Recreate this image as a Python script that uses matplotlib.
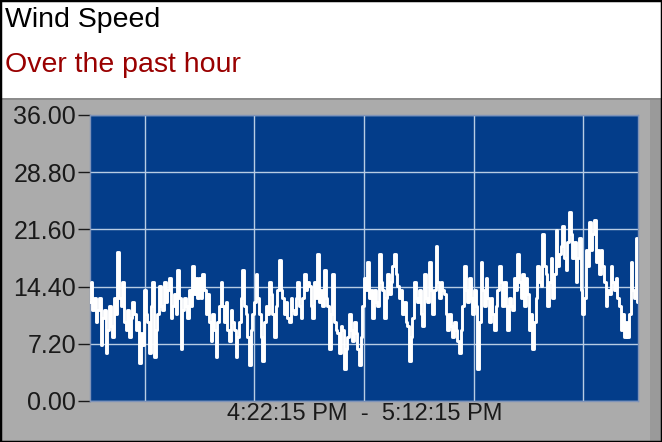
import numpy as np
import matplotlib.pyplot as plt
from matplotlib.patches import Rectangle

TITLE = "Wind Speed"
SUBTITLE = "Over the past hour"
TIME_RANGE = "4:22:15 PM  -  5:12:15 PM"
DURATION_MIN = 50

# wind speed samples, left to right
speed_a = [12.5, 15.0, 11.5, 13.0, 10.0, 11.5, 13.0, 7.0, 10.5, 11.5, 6.0,
           9.0, 12.0, 9.5, 8.0, 13.0, 11.0, 18.7, 13.0, 12.0, 15.0, 10.0,
           9.0, 11.5, 8.0, 10.5, 12.5, 11.0, 9.0, 10.0, 4.8, 8.5, 7.0,
           14.0, 11.0, 10.0, 6.0, 12.0, 15.0, 5.5, 9.0, 11.0, 14.5, 12.0,
           11.5, 15.0, 12.5, 14.0, 15.5, 10.5, 12.0, 13.5, 11.0, 16.5, 13.0,
           6.5, 11.5, 13.0, 12.0, 10.5, 14.0, 12.0, 17.0, 13.5, 15.5, 13.0]
speed_b = [15.5, 13.0, 16.0, 14.0, 11.0, 13.5, 10.0, 7.5, 11.0, 9.0, 5.5,
           10.0, 12.0, 15.0, 12.0, 10.0, 12.5, 9.0, 7.5, 11.5, 10.0, 9.0,
           5.5, 8.0, 10.0, 13.0, 16.5, 12.0, 11.0, 8.0, 4.5, 9.0, 11.0,
           12.5, 16.0, 13.0, 11.0, 8.0, 5.0, 10.0, 12.0, 11.0, 15.0, 13.5,
           11.0, 8.0, 12.0, 14.0, 17.8, 14.0, 13.0, 11.0, 12.5, 10.5, 10.0,
           13.0, 11.5, 11.0, 13.0, 15.0, 12.0, 10.5, 13.0, 16.0, 14.0, 15.0]
speed_c = [14.5, 12.0, 10.5, 15.0, 13.0, 18.5, 12.5, 14.0, 12.0, 16.5, 13.0,
           12.0, 6.5, 11.0, 16.0, 10.0, 9.0, 8.5, 6.0, 9.5, 9.0, 4.0,
           6.5, 8.0, 11.0, 9.0, 7.5, 10.0, 8.5, 6.5, 4.5, 8.0, 12.0,
           15.5, 14.0, 17.5, 13.0, 14.0, 10.5, 14.0, 12.5, 12.0, 18.5, 15.0,
           14.0, 10.5, 13.0, 16.0, 13.5, 15.0, 17.0, 18.5, 16.0, 14.5, 13.0,
           14.0, 11.0, 12.5, 10.0, 9.5, 5.0, 8.0, 10.5, 15.0, 13.0, 12.5]
speed_d = [14.0, 11.0, 9.5, 16.0, 13.0, 12.5, 17.5, 14.0, 11.0, 14.0, 19.5,
           15.0, 13.0, 15.0, 14.0, 13.5, 11.0, 9.0, 11.0, 9.5, 8.0, 10.0,
           9.0, 7.5, 6.0, 9.0, 12.0, 17.0, 14.0, 12.5, 15.5, 13.0, 11.0,
           14.0, 12.0, 4.0, 10.0, 17.5, 14.0, 12.0, 15.5, 13.0, 10.0, 13.0,
           11.0, 9.0, 12.0, 14.0, 17.0, 15.0, 12.0, 15.0, 12.0, 9.0, 13.0,
           12.0, 11.5, 15.5, 14.0, 18.5, 15.0, 13.0, 16.0, 12.0, 15.5, 13.5]
speed_e = [9.0, 11.0, 6.5, 10.0, 13.0, 17.0, 15.0, 14.5, 21.0, 17.0, 16.0,
           12.0, 15.0, 18.0, 13.0, 16.0, 21.5, 17.0, 18.5, 19.5, 22.0, 18.0,
           16.5, 20.0, 23.8, 21.0, 18.0, 20.0, 15.0, 18.0, 20.5, 14.0, 11.0,
           13.0, 19.0, 17.0, 22.5, 19.0, 21.0, 22.8, 17.5, 19.0, 16.0, 19.0,
           17.0, 15.0, 12.0, 14.0, 13.5, 17.0, 15.0, 14.0, 15.5, 13.0, 12.0,
           9.0, 11.0, 8.0, 10.0, 8.0, 11.0, 17.5, 14.0, 13.0, 20.5, 12.5]
speed = speed_a + speed_b + speed_c + speed_d + speed_e

y_ticks = [0.0, 7.2, 14.4, 21.6, 28.8, 36.0]
x_grid = [5, 15, 25, 35, 45]

W, H = 662, 442
plt.rcParams["font.family"] = ["Liberation Sans", "DejaVu Sans"]
fig = plt.figure(figsize=(W / 100, H / 100), dpi=100)
fig.patch.set_facecolor("#ababab")

# white header band
fig.add_artist(Rectangle((0, 1 - 98 / H), 1, 98 / H, transform=fig.transFigure,
                         facecolor="white", edgecolor="none", zorder=0))
fig.add_artist(Rectangle((0, 1 - 99.5 / H), 1, 1.5 / H, transform=fig.transFigure,
                         facecolor="#8c8c8c", edgecolor="none", zorder=1))
fig.add_artist(Rectangle((1 - 12 / W, 0), 12 / W, 1 - 99 / H, transform=fig.transFigure,
                         facecolor="#9a9a9a", edgecolor="none", zorder=0))
fig.text(5 / W, 1 - 20 / H, TITLE, fontsize=20.5, color="black", va="center")
fig.text(5 / W, 1 - 65 / H, SUBTITLE, fontsize=20.5, color="#990000", va="center")

ax = fig.add_axes([90 / W, 41 / H, 548 / W, 286 / H])
ax.set_facecolor("#033d8a")
x = np.linspace(0, DURATION_MIN, len(speed))
ax.plot(x, speed, color="white", lw=2.1, drawstyle="steps-mid", zorder=3)

ax.set_xlim(0, DURATION_MIN)
ax.set_ylim(0, 36)
ax.set_yticks(y_ticks)
ax.set_yticklabels([f"{v:.2f}" for v in y_ticks], fontsize=18, color="#1a1a1a")
ax.tick_params(axis="y", length=9, width=1, color="#1a1a1a", pad=1)
ax.set_xticks(x_grid)
ax.tick_params(axis="x", length=0, labelbottom=False)
ax.grid(True, color="#b8cce4", lw=1, zorder=1)
for s in ax.spines.values():
    s.set_color("#7f93b8")
    s.set_linewidth(1)

fig.text(365 / W, 1 - 414 / H, TIME_RANGE, fontsize=17, color="#1a1a1a",
         ha="center", va="center")

# outer frame
fig.add_artist(Rectangle((0, 0), 1, 1, transform=fig.transFigure,
                         facecolor="none", edgecolor="black", lw=2.5, zorder=5))

fig.savefig("out.png", dpi=100, facecolor=fig.get_facecolor())
